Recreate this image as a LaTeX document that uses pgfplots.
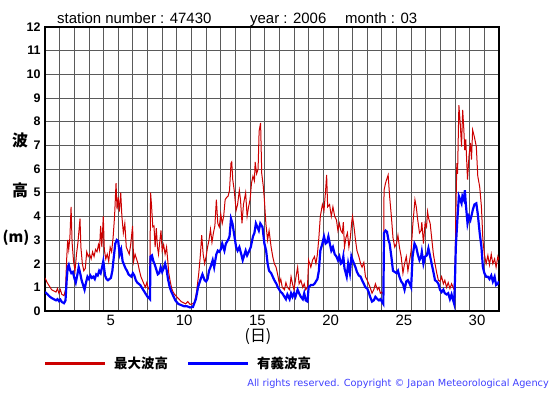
\documentclass[border=0pt]{standalone}
\usepackage{pgfplots}
\pgfplotsset{compat=1.18}
\usepackage{fontspec}
\setmainfont{Liberation Sans}
\newfontfamily\jp{Noto Sans CJK JP}
\newfontfamily\verd{DejaVu Sans}
\definecolor{maxred}{RGB}{204,0,0}
\definecolor{sigblue}{RGB}{0,0,255}
\definecolor{gridgray}{RGB}{90,90,90}
\definecolor{copyblue}{RGB}{64,64,255}

\begin{document}
\begin{tikzpicture}[x=1bp,y=1bp]
\path[use as bounding box] (0,0) rectangle (555,395);
\begin{axis}[
    at={(45bp,84bp)}, anchor=south west,
    scale only axis, width=454bp, height=284bp,
    xmin=0, xmax=31, ymin=0, ymax=12,
    xtick={4.5,9.5,14.5,19.5,24.5,29.5},
    xticklabels={5,10,15,20,25,30},
    minor xtick={1,...,30},
    ytick={0,...,12},
    xmajorgrids=false, xminorgrids=true, ymajorgrids=true,
    grid style={gridgray, line width=0.8bp},
    minor grid style={gridgray, line width=0.8bp},
    major tick length=0pt, minor tick length=0pt,
    axis line style={line width=1.6bp},
    /pgf/number format/assume math mode=true,
    yticklabel style={font=\fontsize{12.5}{13}\selectfont\bfseries, xshift=-1bp},
    xticklabel style={font=\fontsize{15}{15}\selectfont, yshift=-1bp},
]
\addplot[maxred, line width=1bp] coordinates {
(0,1.4)(0.15,1.2)(0.3,1.05)(0.45,0.9)(0.6,0.85)(0.75,0.8)(0.85,0.95)(0.95,0.75)(1.05,0.9)(1.15,0.7)(1.3,0.65)(1.4,0.9)
(1.48,2.2)(1.55,3.0)(1.62,2.6)(1.7,3.1)(1.78,4.4)(1.85,2.9)(1.95,2.1)(2.05,1.7)(2.15,2.4)(2.25,2.9)(2.39,3.9)(2.45,2.7)
(2.55,2.0)(2.65,1.7)(2.75,1.8)(2.85,2.5)(2.95,2.3)(3.05,2.4)(3.15,2.2)(3.25,2.5)(3.35,2.3)(3.45,2.6)(3.55,2.5)(3.65,2.8)
(3.72,2.6)(3.8,3.6)(3.88,2.7)(3.98,4.0)(4.05,2.6)(4.15,2.2)(4.25,2.4)(4.35,2.1)(4.45,2.7)(4.55,2.5)(4.65,3.1)(4.75,4.0)
(4.85,5.4)(4.92,4.3)(5.0,4.8)(5.08,4.2)(5.17,5.0)(5.25,4.0)(5.35,3.3)(5.45,3.7)(5.55,2.7)(5.65,2.55)(5.75,2.4)(5.85,2.8)
(5.98,3.6)(6.05,2.1)(6.15,2.4)(6.25,2.2)(6.35,2.0)(6.45,1.7)(6.55,1.45)(6.65,1.3)(6.75,1.15)(6.85,1.0)(6.95,1.2)(7.05,0.95)
(7.15,0.9)(7.21,5.0)(7.28,4.4)(7.36,3.55)(7.44,3.6)(7.52,2.7)(7.6,3.5)(7.68,2.7)(7.75,2.4)(7.85,3.0)(7.92,3.4)(8.0,2.55)
(8.1,2.8)(8.2,2.4)(8.3,2.7)(8.38,2.15)(8.45,1.6)(8.55,1.25)(8.65,0.95)(8.75,0.8)(8.85,0.7)(9.0,0.6)(9.15,0.5)(9.3,0.4)
(9.45,0.35)(9.6,0.3)(9.75,0.4)(9.9,0.28)(10.05,0.3)(10.2,0.35)(10.35,0.8)(10.5,1.6)(10.6,2.3)(10.7,3.2)(10.8,2.4)(10.9,2.0)
(11.0,2.3)(11.1,2.7)(11.2,3.0)(11.3,3.45)(11.4,2.9)(11.5,3.3)(11.6,3.6)(11.7,4.7)(11.8,3.7)(11.9,3.55)(12.0,4.1)(12.1,3.7)
(12.2,4.0)(12.3,4.7)(12.4,4.8)(12.5,4.85)(12.6,5.1)(12.7,6.25)(12.75,6.3)(12.82,5.55)(12.92,5.1)(13.05,4.25)(13.15,4.5)
(13.27,5.1)(13.35,4.7)(13.45,3.7)(13.55,4.5)(13.7,5.0)(13.8,4.0)(13.9,4.4)(14.0,4.7)(14.1,5.4)(14.2,5.7)(14.3,5.5)(14.35,6.3)
(14.45,5.8)(14.55,6.0)(14.62,7.6)(14.72,7.95)(14.8,5.8)(14.9,5.3)(14.98,4.7)(15.08,3.7)(15.2,3.0)(15.3,3.4)(15.44,2.7)
(15.55,2.3)(15.66,2.0)(15.78,1.85)(15.9,1.5)(16.0,1.15)(16.1,1.35)(16.2,1.0)(16.35,0.9)(16.45,1.2)(16.55,1.0)(16.7,0.9)
(16.8,1.45)(16.9,1.15)(17.0,0.9)(17.1,1.3)(17.25,1.85)(17.35,1.15)(17.47,1.3)(17.6,1.0)(17.7,1.15)(17.8,0.9)(17.92,1.0)
(18.0,2.15)(18.15,1.85)(18.27,2.15)(18.4,2.3)(18.5,2.0)(18.6,2.4)(18.7,3.1)(18.8,4.0)(18.94,4.5)(19.05,4.25)(19.16,5.1)
(19.23,5.75)(19.3,4.4)(19.43,4.5)(19.55,4.0)(19.66,4.4)(19.78,4.0)(19.9,3.85)(20.0,3.4)(20.1,3.7)(20.2,3.4)(20.3,3.3)
(20.37,3.75)(20.45,2.7)(20.55,3.1)(20.65,3.3)(20.75,2.7)(20.85,3.1)(20.95,3.8)(21.0,4.0)(21.1,3.55)(21.2,3.0)(21.3,2.55)
(21.43,2.3)(21.55,2.0)(21.65,1.85)(21.77,2.05)(21.88,1.45)(22.0,1.3)(22.1,1.15)(22.2,1.0)(22.33,0.75)(22.45,0.9)(22.56,1.15)
(22.7,0.9)(22.8,1.0)(22.9,0.75)(23.0,0.8)(23.1,0.7)(23.15,5.1)(23.25,5.4)(23.35,5.6)(23.43,5.75)(23.53,4.85)(23.65,4.0)
(23.76,3.1)(23.88,2.7)(24.0,2.85)(24.1,3.2)(24.2,2.7)(24.32,2.3)(24.44,1.6)(24.55,2.0)(24.67,2.3)(24.78,1.7)(24.9,2.15)
(25.0,2.55)(25.12,3.7)(25.26,4.7)(25.35,4.4)(25.45,3.85)(25.57,3.3)(25.68,3.4)(25.73,3.75)(25.84,2.85)(25.95,3.7)(26.05,3.55)
(26.12,4.2)(26.2,3.9)(26.3,3.7)(26.4,3.1)(26.52,2.4)(26.63,2.0)(26.75,1.6)(26.86,1.3)(26.97,1.25)(27.08,1.45)(27.2,1.15)
(27.3,1.3)(27.42,1.0)(27.53,1.2)(27.65,0.95)(27.76,1.15)(27.87,1.0)(27.94,0.9)(28.0,1.7)(28.05,4.0)(28.12,6.25)(28.17,5.8)
(28.26,8.7)(28.35,7.95)(28.44,6.95)(28.52,8.5)(28.6,7.65)(28.66,6.8)(28.73,7.25)(28.85,5.55)(28.95,6.55)(29.05,7.1)(29.12,6.4)
(29.2,7.65)(29.32,7.35)(29.45,6.95)(29.55,5.7)(29.68,5.25)(29.8,4.4)(29.9,3.0)(30.0,2.4)(30.12,2.0)(30.24,2.35)(30.35,1.95)
(30.47,2.4)(30.58,2.0)(30.7,2.2)(30.8,1.85)(30.92,2.3)(31.0,2.15)
};
\addplot[sigblue, line width=2.2bp] coordinates {
(0,0.8)(0.15,0.72)(0.3,0.62)(0.45,0.55)(0.6,0.5)(0.75,0.45)(0.85,0.5)(0.95,0.42)(1.05,0.48)(1.15,0.38)(1.3,0.33)(1.4,0.45)
(1.48,1.3)(1.55,1.85)(1.62,1.95)(1.7,1.75)(1.8,1.6)(1.9,1.65)(2.0,1.4)(2.1,1.2)(2.2,1.5)(2.3,1.85)(2.4,1.6)(2.5,1.3)(2.6,1.1)
(2.7,0.9)(2.8,1.2)(2.9,1.45)(3.0,1.35)(3.1,1.5)(3.2,1.4)(3.3,1.45)(3.4,1.35)(3.5,1.55)(3.6,1.5)(3.7,1.7)(3.8,1.6)(3.9,1.85)
(3.98,2.1)(4.1,1.5)(4.2,1.35)(4.3,1.3)(4.4,1.35)(4.5,1.4)(4.6,1.7)(4.7,2.3)(4.8,2.85)(4.9,3.0)(5.0,2.95)(5.1,2.4)(5.2,2.6)
(5.3,2.1)(5.4,1.95)(5.5,1.8)(5.6,1.7)(5.7,1.55)(5.8,1.5)(5.9,1.45)(6.0,1.6)(6.1,1.5)(6.2,1.3)(6.3,1.2)(6.4,1.15)(6.5,1.1)
(6.6,1.0)(6.7,0.9)(6.8,0.8)(6.9,0.7)(7.0,0.6)(7.1,0.55)(7.17,0.5)(7.2,2.3)(7.3,2.35)(7.4,2.1)(7.5,1.95)(7.6,1.75)(7.7,1.55)
(7.8,1.6)(7.9,1.85)(8.0,1.65)(8.1,1.8)(8.2,2.0)(8.3,1.75)(8.4,1.35)(8.5,1.05)(8.6,0.85)(8.75,0.65)(8.9,0.45)(9.1,0.3)(9.3,0.25)
(9.5,0.2)(9.7,0.2)(9.9,0.15)(10.1,0.17)(10.3,0.5)(10.45,1.0)(10.6,1.3)(10.75,1.55)(10.9,1.3)(11.0,1.25)(11.1,1.35)(11.2,1.7)
(11.3,1.85)(11.45,2.15)(11.55,1.85)(11.7,2.4)(11.8,2.55)(11.9,2.5)(12.0,2.6)(12.1,2.85)(12.25,2.55)(12.35,2.85)(12.5,3.0)
(12.6,3.15)(12.7,3.9)(12.8,3.7)(12.9,3.3)(13.05,2.7)(13.15,2.55)(13.27,2.7)(13.4,2.4)(13.5,2.15)(13.6,2.35)(13.7,2.55)
(13.8,2.35)(13.95,2.55)(14.05,2.7)(14.2,3.15)(14.3,3.3)(14.4,3.7)(14.5,3.55)(14.6,3.4)(14.7,3.7)(14.85,3.55)(14.98,2.85)
(15.1,2.55)(15.2,2.0)(15.3,1.7)(15.44,1.6)(15.55,1.45)(15.66,1.3)(15.8,1.15)(15.9,1.0)(16.0,0.9)(16.1,0.8)(16.2,0.75)
(16.35,0.6)(16.45,0.5)(16.55,0.7)(16.7,0.5)(16.8,0.75)(16.9,0.6)(17.0,0.75)(17.1,0.6)(17.25,0.9)(17.35,0.75)(17.47,0.6)
(17.6,0.5)(17.7,0.75)(17.8,0.45)(17.92,0.4)(18.0,1.0)(18.15,1.1)(18.3,1.1)(18.4,1.15)(18.5,1.25)(18.6,1.35)(18.7,1.7)
(18.8,2.55)(18.94,2.85)(19.05,3.15)(19.16,2.85)(19.25,2.9)(19.35,3.15)(19.43,2.9)(19.55,2.55)(19.66,2.7)(19.78,2.4)(19.9,2.3)
(20.0,2.15)(20.1,2.3)(20.2,2.0)(20.3,2.05)(20.37,2.3)(20.45,1.8)(20.6,1.45)(20.7,2.0)(20.82,1.6)(20.92,2.3)(21.0,2.15)
(21.1,2.0)(21.2,1.85)(21.3,1.65)(21.43,1.5)(21.55,1.45)(21.65,1.3)(21.77,1.15)(21.88,1.0)(22.0,0.95)(22.1,0.8)(22.2,0.6)
(22.33,0.4)(22.45,0.45)(22.56,0.6)(22.7,0.5)(22.8,0.45)(22.9,0.5)(23.0,0.4)(23.1,0.3)(23.15,3.3)(23.25,3.4)(23.35,3.35)
(23.45,3.0)(23.53,2.85)(23.65,2.3)(23.76,1.7)(23.88,1.65)(24.0,1.6)(24.1,1.7)(24.2,1.45)(24.32,1.25)(24.44,1.15)(24.55,0.9)
(24.67,1.25)(24.78,1.3)(24.9,1.15)(25.0,1.0)(25.1,2.3)(25.23,2.85)(25.35,2.7)(25.45,2.4)(25.57,2.15)(25.68,2.3)(25.73,2.5)
(25.84,2.0)(25.95,2.3)(26.07,2.35)(26.18,2.65)(26.3,2.3)(26.4,2.0)(26.52,1.65)(26.63,1.3)(26.75,1.25)(26.86,1.15)(26.97,0.9)
(27.08,0.8)(27.2,0.9)(27.3,0.75)(27.42,0.7)(27.53,0.75)(27.65,0.5)(27.76,0.7)(27.87,0.45)(27.94,0.3)(28.0,1.45)(28.05,2.7)
(28.17,4.0)(28.26,4.85)(28.35,4.7)(28.44,4.55)(28.5,4.85)(28.6,4.7)(28.67,5.1)(28.73,4.55)(28.85,3.7)(28.95,4.0)(29.05,3.85)
(29.15,4.1)(29.2,4.25)(29.32,4.5)(29.45,4.55)(29.55,4.1)(29.68,3.3)(29.8,2.7)(29.9,1.85)(30.0,1.6)(30.12,1.45)(30.24,1.45)
(30.35,1.35)(30.47,1.5)(30.58,1.25)(30.7,1.45)(30.8,1.1)(30.92,1.15)(31.0,1.25)
};
\end{axis}
% title
\node[anchor=base west, font=\fontsize{15}{15}\selectfont, inner sep=0pt] at (57,372) {station number : 47430};
\node[anchor=base west, font=\fontsize{15}{15}\selectfont, inner sep=0pt] at (250,372) {year : 2006};
\node[anchor=base west, font=\fontsize{15}{15}\selectfont, inner sep=0pt] at (345,372) {month : 03};
% y label
\node[font=\jp\bfseries\fontsize{16}{16}\selectfont, inner sep=0pt] at (20,255) {波};
\node[font=\jp\bfseries\fontsize{16}{16}\selectfont, inner sep=0pt] at (20,205) {高};
\node[font=\jp\bfseries\fontsize{15}{15}\selectfont, inner sep=0pt] at (16,157) {(m)};
% x label
\node[font=\jp\fontsize{16}{16}\selectfont, inner sep=0pt] at (258,58) {(日)};
% legend
\draw[maxred, line width=3bp] (45,32) -- (105,32);
\node[anchor=west, font=\jp\bfseries\fontsize{13.5}{13.5}\selectfont, inner sep=0pt] at (114,32) {最大波高};
\draw[sigblue, line width=3bp] (188,32) -- (248,32);
\node[anchor=west, font=\jp\bfseries\fontsize{13.5}{13.5}\selectfont, inner sep=0pt] at (257,32) {有義波高};
% copyright
\node[anchor=east, text=copyblue, font=\verd\fontsize{9.8}{10}\selectfont, inner sep=0pt] at (549,11) {All rights reserved. Copyright \textcopyright{} Japan Meteorological Agency};
\end{tikzpicture}
\end{document}
